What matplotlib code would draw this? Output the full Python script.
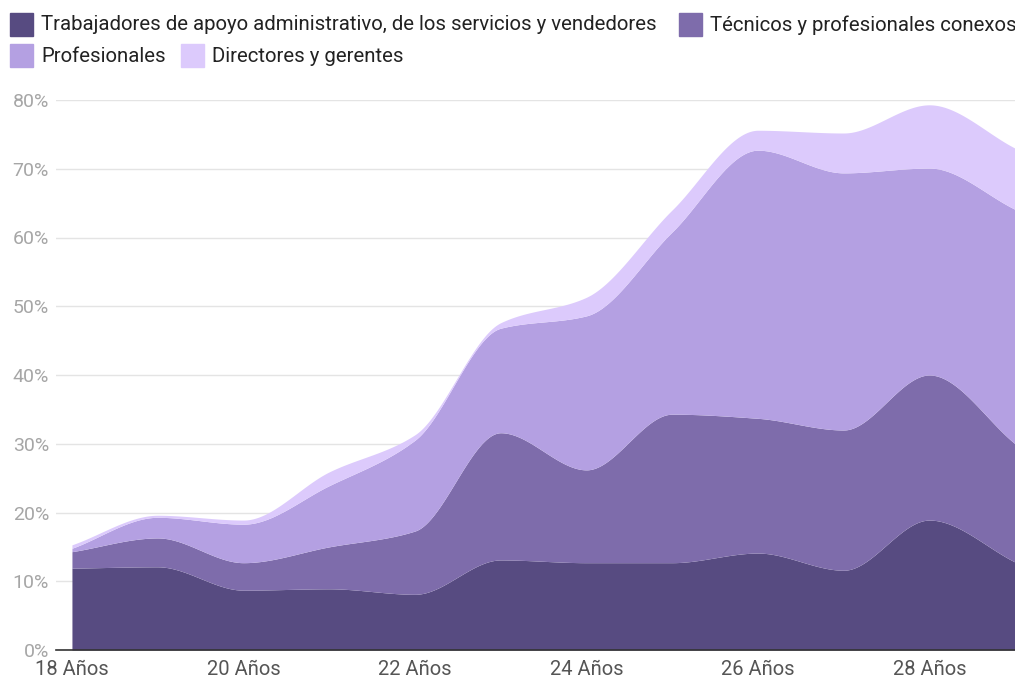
import numpy as np
import matplotlib.pyplot as plt
from matplotlib.patches import Rectangle

plt.rcParams['font.family'] = ['Roboto', 'DejaVu Sans']

edades = [18, 19, 20, 21, 22, 23, 24, 25, 26, 27, 28, 29]
# cumulative tops (%)
trabajadores = [11.9, 12.1, 8.7, 8.9, 8.1, 13.1, 12.7, 12.7, 14.1, 11.6, 18.9, 12.8]
tecnicos_acum = [14.3, 16.3, 12.7, 15.0, 17.3, 31.6, 26.2, 34.3, 33.7, 32.0, 40.0, 30.0]
profesionales_acum = [14.8, 19.3, 18.3, 23.9, 30.5, 46.8, 48.6, 60.8, 72.7, 69.4, 70.1, 64.1]
directores_acum = [15.3, 19.6, 18.9, 25.9, 31.3, 47.6, 51.3, 64.0, 75.6, 75.2, 79.3, 73.0]

nombres = ["Trabajadores de apoyo administrativo, de los servicios y vendedores",
           "Técnicos y profesionales conexos", "Profesionales", "Directores y gerentes"]
colores = ["#574b81", "#7e6cab", "#b4a0e2", "#dccafc"]


def monotone(x, y, xs):
    x = np.asarray(x, float)
    y = np.asarray(y, float)
    h = np.diff(x)
    d = np.diff(y) / h
    m = np.zeros_like(y)
    m[0], m[-1] = d[0], d[-1]
    for i in range(1, len(y) - 1):
        if d[i - 1] * d[i] > 0:
            m[i] = 2 / (1 / d[i - 1] + 1 / d[i])
    idx = np.clip(np.searchsorted(x, xs) - 1, 0, len(h) - 1)
    t = (xs - x[idx]) / h[idx]
    h00 = 2 * t**3 - 3 * t**2 + 1
    h10 = t**3 - 2 * t**2 + t
    h01 = -2 * t**3 + 3 * t**2
    h11 = t**3 - t**2
    return h00 * y[idx] + h10 * h[idx] * m[idx] + h01 * y[idx + 1] + h11 * h[idx] * m[idx + 1]


fig = plt.figure(figsize=(10.15, 6.79), dpi=100)
ax = fig.add_axes([56 / 1015, 1 - 650 / 679, 1 - 56 / 1015, 550 / 679])

xs = np.linspace(edades[0], edades[-1], 600)
capas = [trabajadores, tecnicos_acum, profesionales_acum, directores_acum]
abajo = np.zeros_like(xs)
curvas = [monotone(edades, c, xs) for c in capas]
for i, c in enumerate(curvas):
    base = curvas[i - 1] if i > 0 else abajo
    ax.fill_between(xs, base, c, color=colores[i], lw=0, zorder=2)

ax.set_xlim(17.814, 29.0)
ax.set_ylim(0, 80)
ax.set_yticks(range(0, 81, 10))
ax.set_yticklabels([f"{v}%" for v in range(0, 81, 10)])
ax.set_xticks([18, 20, 22, 24, 26, 28])
ax.set_xticklabels([f"{v} Años" for v in [18, 20, 22, 24, 26, 28]])
ax.grid(axis='y', color='#e4e4e4', lw=1, zorder=0)
for s in ['top', 'right', 'left']:
    ax.spines[s].set_visible(False)
ax.spines['bottom'].set_color('#333333')
ax.spines['bottom'].set_linewidth(1.2)
ax.spines['bottom'].set_zorder(3)
ax.tick_params(axis='y', length=0, pad=5, labelsize=14, labelcolor='#a6a6a6')
ax.tick_params(axis='x', length=0, pad=7.5, labelsize=14.5, labelcolor='#555555')

# legend drawn by hand in two rows
def item(x0, y0, color, text):
    fig.patches.append(Rectangle((x0 / 1015, 1 - (y0 + 23) / 679), 23 / 1015, 23 / 679,
                                 transform=fig.transFigure, color=color))
    fig.text((x0 + 31) / 1015, 1 - (y0 + 12) / 679, text, fontsize=14.7,
             color='#222222', va='center', ha='left')

item(10, 13, colores[0], nombres[0])
item(679, 13, colores[1], nombres[1])
item(10, 44, colores[2], nombres[2])
item(181, 44, colores[3], nombres[3])

fig.savefig("out.png", dpi=100)
